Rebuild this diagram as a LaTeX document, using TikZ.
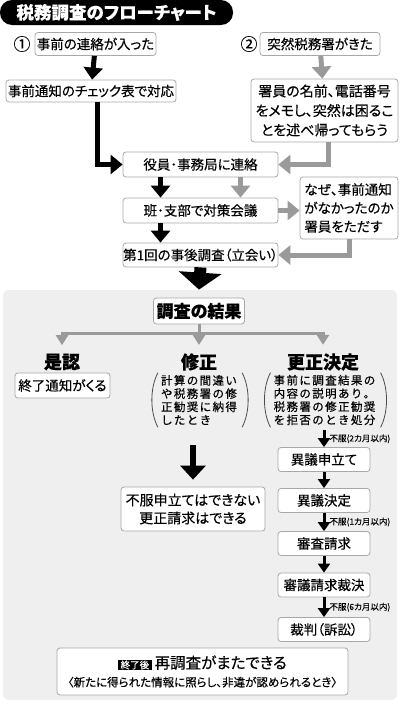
\documentclass[tikz,border=0pt]{standalone}
\usepackage{fontspec}
\usepackage{xcolor}
\usepackage{tikz}
\usetikzlibrary{arrows.meta,calc}
\newfontfamily\jp[RawFeature=+palt, FakeBold=0.3]{Noto Sans CJK JP}
\newfontfamily\jpsp[LetterSpace=12, FakeBold=0.3]{Noto Sans CJK JP}
\definecolor{arrowgray}{HTML}{9A9A9A}
\definecolor{framegray}{HTML}{A8A8A8}
\definecolor{panelgray}{HTML}{EFEFEF}

\begin{document}
\begin{tikzpicture}[x=1pt,y=-1pt,
  box/.style={draw=framegray, fill=white, rounded corners=3pt, line width=0.8pt, inner sep=0pt, align=center, font=\jp\fontsize{13.5}{19}\selectfont},
  head/.style={font=\jp\bfseries\fontsize{18}{20}\selectfont},
  spaced/.style={inner sep=0pt, align=left, font=\jpsp\fontsize{11.5}{13.2}\selectfont},
  blk/.style={line width=5pt, -{Triangle[width=19pt,length=12pt]}},
  gry/.style={arrowgray, line width=5pt, -{Triangle[width=19pt,length=12pt]}},
  smallarr/.style={line width=3pt, -{Triangle[width=12pt,length=9pt]}},
  grysmall/.style={arrowgray, line width=3pt, -{Triangle[width=12pt,length=10pt]}},
  paren/.style={black!70, line width=0.8pt},
  note/.style={font=\jp\fontsize{8.5}{10}\selectfont, anchor=west, inner sep=0pt, xshift=4pt}]
\useasboundingbox (0,0) rectangle (400,704);
\node[fill=black, text=white, rounded corners=12pt, minimum width=233pt, minimum height=25pt, inner sep=0pt, font=\jp\bfseries\fontsize{17.5}{20}\selectfont] (title) at (116.5,12.5) {税務調査のフローチャート};

\node[font=\jp\fontsize{17}{18}\selectfont] (n1) at (22,44) {①};
\node[font=\jp\fontsize{17}{18}\selectfont] (n2) at (249,44) {②};
\node[box, minimum width=121pt, minimum height=23pt] (b1) at (95.5,44) {事前の連絡が入った};
\node[box, minimum width=170pt, minimum height=22pt] (b2) at (91,91) {事前通知のチェック表で対応};
\node[box, minimum width=120pt, minimum height=23pt] (b3) at (320,44) {突然税務署がきた};
\node[box, minimum width=147pt, minimum height=63pt, font=\jp\fontsize{14}{19.5}\selectfont] (b4) at (324.5,110.5) {署員の名前、電話番号\\をメモし、突然は困るこ\\とを述べ帰ってもらう};
\node[box, minimum width=155pt, minimum height=25pt] (b5) at (200.5,164.5) {役員･事務局に連絡};
\node[box, minimum width=155pt, minimum height=25pt] (b6) at (200.5,210.5) {班･支部で対策会議};
\node[box, minimum width=98pt, minimum height=62pt, align=left, font=\jp\fontsize{13.5}{18.5}\selectfont] (b7) at (349,208) {なぜ、事前通知\\がなかったのか\\署員をただす};
\node[box, minimum width=155pt, minimum height=24pt] (b8) at (200.5,255) {第1回の事後調査（立会い）};

\draw[blk] (b1) -- (b2);
\draw[blk] ([xshift=6pt]b2.south) |- (b5.west);
\draw[gry] (b3) -- (b4);
\draw[gry] ([xshift=4pt]b4.south) |- (b5.east);
\draw[blk] ([xshift=-40pt]b5.south) -- ([xshift=-40pt]b6.north);
\draw[gry] ([xshift=40pt]b5.south) -- ([xshift=40pt]b6.north);
\draw[gry] (b6.east) -- (b6.east -| b7.west);
\draw[blk] ([xshift=-40pt]b6.south) -- ([xshift=-40pt]b8.north);
\draw[gry] (b7.south) |- (b8.east);

\fill[panelgray, rounded corners=6pt] (3,290) rectangle (397,700);
\node[box, minimum width=91pt, minimum height=26pt, font=\jp\bfseries\fontsize{17}{20}\selectfont] (r0) at (199,311) {調査の結果};
\draw[line width=12pt, -{Triangle[width=42pt,length=17pt]}] (b8.south) -- ([yshift=8pt]r0.north);

\node[head] (h1) at (62,362) {是認};
\node[head] (h2) at (199,362) {修正};
\node[head] (h3) at (323,362) {更正決定};
\draw[arrowgray, line width=3pt] (r0.south) -- ++(0,9) coordinate (split);
\foreach \h in {h1,h2,h3}
  \draw[grysmall] (split) -| ([yshift=5pt]\h.north);

\node[box, minimum width=95pt, minimum height=25pt, font=\jp\fontsize{13.5}{16}\selectfont] (r1) at (62.5,385.5) {終了通知がくる};
\node[spaced] (fix) at (199,400) {計算の間違い\\や税務署の修\\正勧奨に納得\\したとき};
\node[spaced] (corr) at (324.5,400) {事前に調査結果の\\内容の説明あり。\\税務署の修正勧奨\\を拒否のとき処分};
\foreach \p in {fix,corr} {
  \draw[paren] ([shift={(-3,-2)}]\p.north west) .. controls +(-8,15) and +(-8,-15) .. ([shift={(-3,2)}]\p.south west);
  \draw[paren] ([shift={(5,-2)}]\p.north east) .. controls +(8,15) and +(8,-15) .. ([shift={(5,2)}]\p.south east);
}

\node[box, minimum width=144pt, minimum height=44pt, font=\jp\fontsize{14}{18}\selectfont] (r2) at (193,509) {不服申立てはできない\\更正請求はできる};
\draw[line width=6pt, -{Triangle[width=25pt,length=14pt]}] ([yshift=-20pt]fix.south -| r2.north) -- ([yshift=7pt]r2.north);

\foreach \n/\t/\y in {s1/異議申立て/459.5, s2/異議決定/500.5, s3/審査請求/543.5, s4/審議請求裁決/585, s5/裁判（訴訟）/629.5}
  \node[box, minimum width=92pt, minimum height=24pt, font=\jp\fontsize{13.5}{16}\selectfont] (\n) at (324,\y) {\t};
\draw[smallarr] ([yshift=-5pt]corr.south -| s1.north) -- (s1.north) node[midway, note] {不服(2カ月以内)};
\draw[smallarr] (s1) -- (s2);
\draw[smallarr] (s2) -- (s3) node[midway, note] {不服(1カ月以内)};
\draw[smallarr] (s3) -- (s4);
\draw[smallarr] (s4) -- (s5) node[midway, note] {不服(6カ月以内)};

\node[box, minimum width=291pt, minimum height=47pt, font=\jp\fontsize{11.5}{18}\selectfont] (again) at (202.5,671.5) {{\fboxsep=1pt\colorbox{black}{\hspace{1.5pt}\color{white}\fontsize{9.5}{9.5}\selectfont 終了後\hspace{1.5pt}}}\hspace{3pt}{\fontsize{15.5}{18}\selectfont 再調査がまたできる}\\〈新たに得られた情報に照らし、非違が認められるとき〉};
\end{tikzpicture}
\end{document}
